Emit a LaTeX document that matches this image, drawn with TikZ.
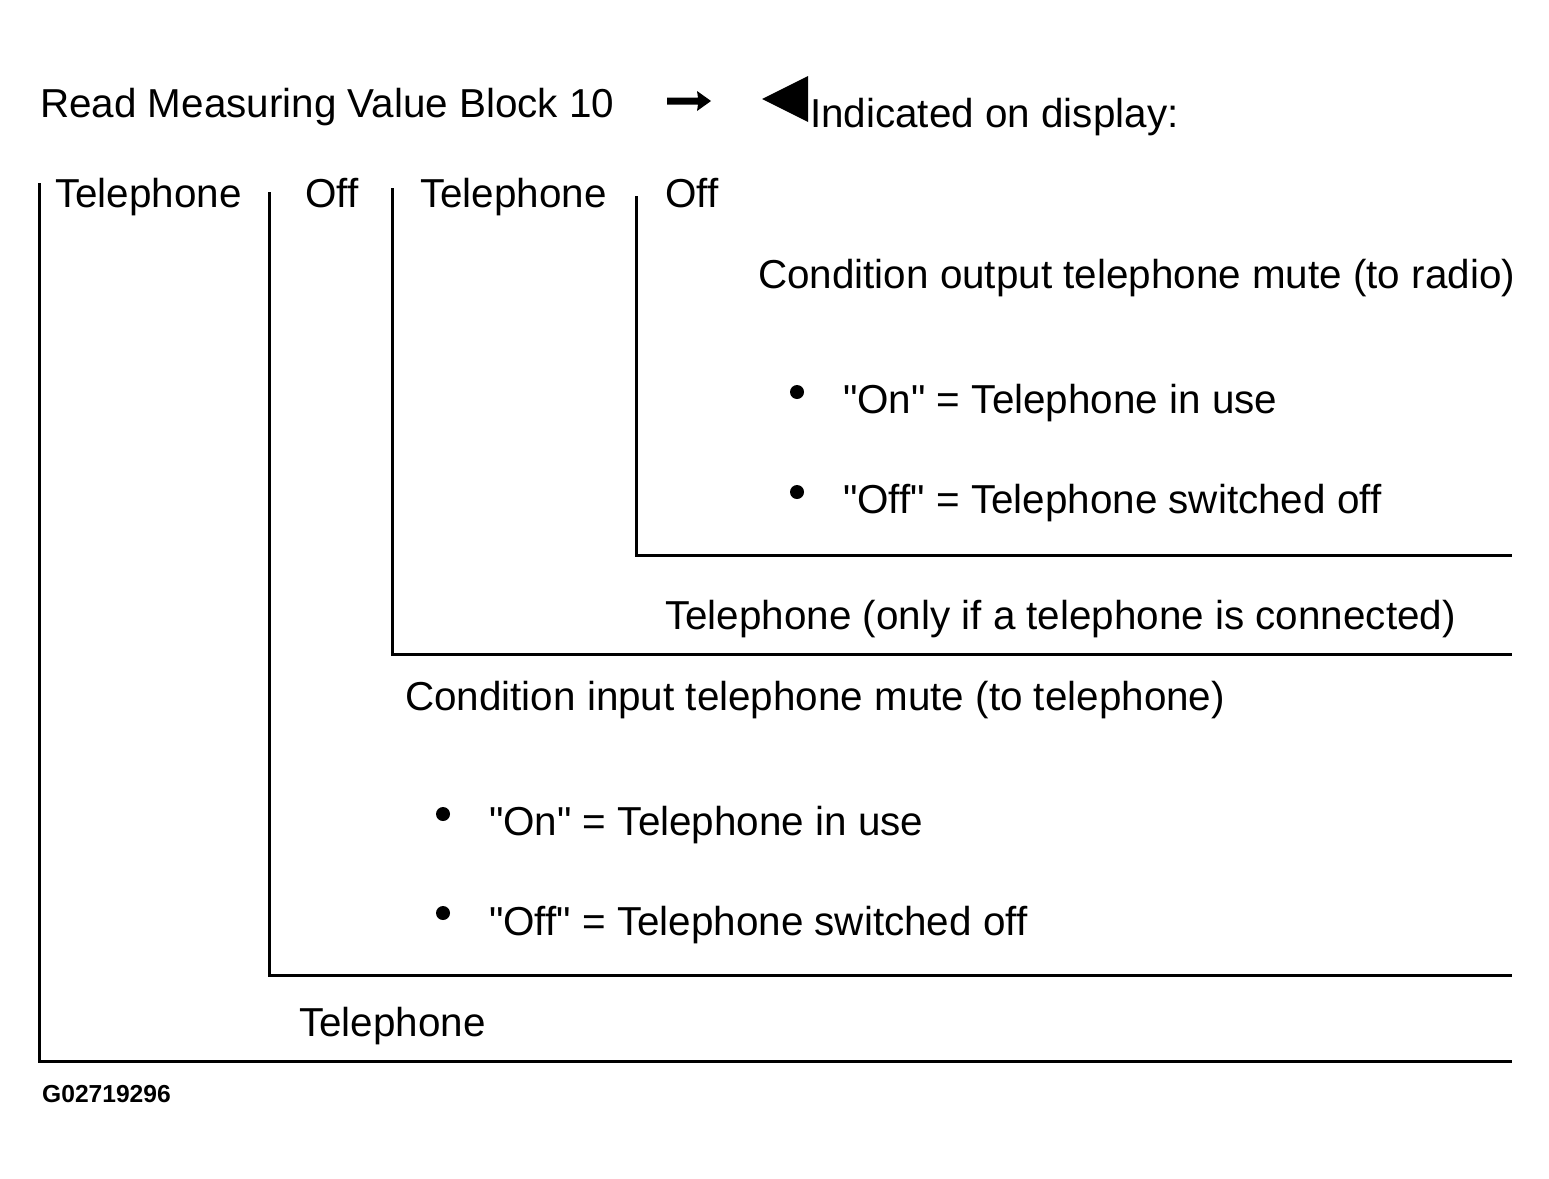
\documentclass[tikz,border=0pt]{standalone}
\usepackage{fontspec}
\setmainfont{Liberation Sans}[Ligatures=TeXOff]
\tikzset{
  lbl/.style={anchor=base west, inner sep=0pt, font=\fontsize{40.4}{42}\selectfont},
  small/.style={anchor=base west, inner sep=0pt, font=\fontsize{24.6}{26}\selectfont\bfseries},
  frame/.style={line width=3pt, line cap=butt},
  dot/.style={circle, fill=black, inner sep=0pt, minimum size=14pt}
}
\begin{document}
\begin{tikzpicture}[x=1pt,y=-1pt]
\useasboundingbox (0,0) rectangle (1549,1178);
% header
\node[lbl] (hdr) at (40,117) {Read Measuring Value Block 10};
\fill (667,97.5) -- (698,97.5) -- (697,91) -- (711,101) -- (697,111) -- (698,104.5) -- (667,104.5) -- cycle;
\fill (762,99) -- (808,76) -- (808,122) -- cycle;
\node[lbl] (ind) at (810,127) {Indicated on display:};
% top row labels
\node[lbl] (t1) at (55,207) {Telephone};
\node[lbl] (o1) at (305,207) {Off};
\node[lbl] (t2) at (420,207) {Telephone};
\node[lbl] (o2) at (665,207) {Off};
% frames
\coordinate (f1a) at (39,183); \coordinate (f1b) at (39,1061); \coordinate (f1c) at (1512,1061);
\coordinate (f2a) at (269,192); \coordinate (f2b) at (269,975); \coordinate (f2c) at (1512,975);
\coordinate (f3a) at (392,188); \coordinate (f3b) at (392,654); \coordinate (f3c) at (1512,654);
\coordinate (f4a) at (636,196); \coordinate (f4b) at (636,555); \coordinate (f4c) at (1512,555);
\draw[frame] (f1a) -- (f1b) -- (f1c);
\draw[frame] (f2a) -- (f2b) -- (f2c);
\draw[frame] (f3a) -- (f3b) -- (f3c);
\draw[frame] (f4a) -- (f4b) -- (f4c);
% innermost block
\node[lbl] (c1) at (758,288) {Condition output telephone mute (to radio)};
\node[dot] (b1) at (797,392) {};
\node[lbl] (c1on) at (843,413) {"On" = Telephone in use};
\node[dot] (b2) at (797,492) {};
\node[lbl] (c1off) at (843,513) {"Off" = Telephone switched off};
\node[lbl] (tc) at (665,629) {Telephone (only if a telephone is connected)};
\node[lbl] (c2) at (405,710) {Condition input telephone mute (to telephone)};
\node[dot] (b3) at (443,814) {};
\node[lbl] (c2on) at (489,835) {"On" = Telephone in use};
\node[dot] (b4) at (443,913) {};
\node[lbl] (c2off) at (489,935) {"Off" = Telephone switched off};
\node[lbl] (tb) at (299,1036) {Telephone};
\node[small] (code) at (42,1102) {G02719296};
\end{tikzpicture}
\end{document}
